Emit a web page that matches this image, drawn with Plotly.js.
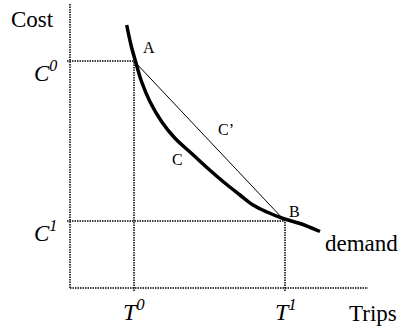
<!DOCTYPE html>
<html>
<head>
<meta charset="utf-8">
<script src="https://cdn.plot.ly/plotly-3.0.1.min.js"></script>
<style>html,body{margin:0;padding:0;background:#fff;}#chart{width:401px;height:331px;}</style>
</head>
<body>
<div id="chart"></div>
<script>
// Trips (T) and Cost (C) values of the two equilibrium points
var T0 = 64, T1 = 215;
var C0 = 227, C1 = 67;
// Demand curve
var demandTrips = [56.7, 61, 65.7, 71.7, 80, 91.7, 105, 123.3, 138, 153, 170, 183, 197, 213, 230, 250];
var demandCost  = [263, 243, 226, 206, 186.3, 166.3, 149.7, 133, 119.5, 106.5, 93, 83, 76, 69.5, 64.5, 56.5];
// Axis extents
var tripsMax = 298, costMax = 285;

var dotted = {color: '#000', width: 1.5, dash: '1.5px,1px'};
var traces = [
  {x: [0, 0], y: [0, costMax], mode: 'lines', line: dotted},
  {x: [0, tripsMax], y: [0, 0], mode: 'lines', line: dotted},
  {x: [-3, T0], y: [C0, C0], mode: 'lines', line: dotted},
  {x: [T0, T0], y: [-3, C0], mode: 'lines', line: dotted},
  {x: [-3, T1], y: [C1, C1], mode: 'lines', line: dotted},
  {x: [T1, T1], y: [-3, C1], mode: 'lines', line: dotted},
  {x: [T0, T1], y: [C0, C1], mode: 'lines', line: {color: '#000', width: 1}},
  {x: demandTrips, y: demandCost, mode: 'lines', line: {color: '#000', width: 3.5, shape: 'spline', smoothing: 1}}
];

var serif = 'Liberation Serif, Times New Roman, serif';
function ann(text, px, py, size, xanchor) {
  return {text: text, x: px - 70, y: 288 - py, xref: 'x', yref: 'y', showarrow: false,
    xanchor: xanchor || 'center', yanchor: 'middle', font: {family: serif, size: size, color: '#000'}};
}
var annotations = [
  ann('Cost', 9, 19, 23, 'left'),
  ann('A', 149, 47, 16),
  ann('C\u2019', 226, 129, 16),
  ann('C', 177, 159, 16),
  ann('B', 294, 211, 16),
  ann('demand', 323, 243, 23, 'left'),
  ann('Trips', 347, 313, 23, 'left'),
  ann('<i>C<sup>0</sup></i>', 45, 71, 23),
  ann('<i>C<sup>1</sup></i>', 45, 231, 23),
  ann('<i>T<sup>0</sup></i>', 134, 310, 24),
  ann('<i>T<sup>1</sup></i>', 286, 310, 24)
];

var layout = {
  width: 401, height: 331,
  margin: {l: 0, r: 0, t: 0, b: 0},
  paper_bgcolor: '#fff', plot_bgcolor: '#fff',
  showlegend: false,
  xaxis: {range: [-70, 331], visible: false, fixedrange: true},
  yaxis: {range: [-43, 288], visible: false, fixedrange: true},
  annotations: annotations
};
Plotly.newPlot('chart', traces, layout, {staticPlot: true, displayModeBar: false});
</script>
</body>
</html>
